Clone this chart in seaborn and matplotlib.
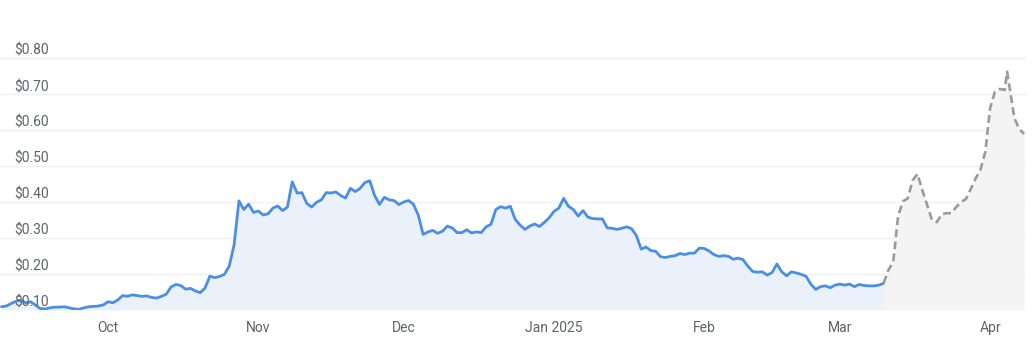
import matplotlib
matplotlib.use("Agg")
import matplotlib.pyplot as plt
import matplotlib.transforms as mtransforms
import seaborn as sns
import pandas as pd

# ---------------- data ----------------
hist_start = "2024-09-09"
hist_price = [
    0.109, 0.111, 0.118, 0.124, 0.128, 0.120, 0.123, 0.114, 0.104, 0.103,
    0.106, 0.108, 0.108, 0.109, 0.106, 0.103, 0.102, 0.106, 0.109, 0.110,
    0.111, 0.114,
    0.123, 0.120, 0.128, 0.140, 0.138, 0.142, 0.140, 0.138, 0.139, 0.135,
    0.133, 0.138, 0.144, 0.164, 0.171, 0.168, 0.158, 0.160, 0.153, 0.148,
    0.161, 0.194, 0.190, 0.193, 0.199, 0.222, 0.281, 0.403, 0.379, 0.394,
    0.371, 0.375, 0.364, 0.367, 0.383, 0.389, 0.376, 0.386, 0.456, 0.425,
    0.426, 0.396, 0.386, 0.399, 0.406, 0.426, 0.425, 0.428, 0.418, 0.411,
    0.438, 0.429, 0.438, 0.454, 0.459, 0.418, 0.393, 0.413, 0.406, 0.404,
    0.393, 0.400, 0.404, 0.394, 0.364, 0.310, 0.317, 0.321, 0.313, 0.319,
    0.333, 0.328, 0.315, 0.315, 0.323, 0.314, 0.317, 0.315, 0.331, 0.338,
    0.379, 0.387, 0.383, 0.388, 0.352, 0.336, 0.324, 0.333, 0.339, 0.332,
    0.343, 0.356, 0.374, 0.383, 0.410, 0.388, 0.379, 0.361, 0.376, 0.358,
    0.354, 0.353, 0.353, 0.328, 0.327, 0.324, 0.327, 0.331, 0.326, 0.307,
    0.269, 0.275, 0.265, 0.263, 0.248, 0.246, 0.249, 0.251, 0.257, 0.254,
    0.258, 0.258, 0.272, 0.271, 0.264, 0.254, 0.249, 0.251, 0.249, 0.241,
    0.244, 0.240, 0.222, 0.207, 0.205, 0.206, 0.197, 0.204, 0.228, 0.206,
    0.195, 0.206, 0.203, 0.199, 0.194, 0.172, 0.157, 0.165, 0.167, 0.162,
    0.169, 0.172, 0.169, 0.172, 0.165, 0.171, 0.168, 0.167, 0.167, 0.169, 0.174,
]

fc_dates = [
    "2025-03-10 00:00", "2025-03-11 00:00", "2025-03-12 00:00", "2025-03-13 00:00",
    "2025-03-14 00:00", "2025-03-15 00:00", "2025-03-16 00:00", "2025-03-17 00:00",
    "2025-03-18 00:00", "2025-03-19 00:00", "2025-03-20 00:00", "2025-03-21 00:00",
    "2025-03-22 00:00", "2025-03-23 00:00", "2025-03-24 00:00", "2025-03-25 00:00",
    "2025-03-26 00:00", "2025-03-27 00:00", "2025-03-28 00:00", "2025-03-29 00:00",
    "2025-03-30 00:00", "2025-03-31 00:00", "2025-04-01 00:00", "2025-04-02 00:00",
    "2025-04-03 00:00", "2025-04-04 00:00", "2025-04-04 12:00", "2025-04-05 00:00",
    "2025-04-06 00:00", "2025-04-07 00:00", "2025-04-08 00:00",
]
fc_price = [
    0.174, 0.211, 0.233, 0.360,
    0.402, 0.410, 0.460, 0.478,
    0.433, 0.392, 0.350, 0.344,
    0.366, 0.369, 0.369, 0.386,
    0.400, 0.408, 0.436, 0.465,
    0.490, 0.539, 0.661, 0.707,
    0.714, 0.711, 0.762, 0.720,
    0.633, 0.603, 0.589,
]

y_ticks = [0.10, 0.20, 0.30, 0.40, 0.50, 0.60, 0.70, 0.80]
y_labels = ["$0.10", "$0.20", "$0.30", "$0.40", "$0.50", "$0.60", "$0.70", "$0.80"]
x_ticks = ["2024-10-01", "2024-11-01", "2024-12-01", "2025-01-01",
           "2025-02-01", "2025-03-01", "2025-04-01"]
x_labels = ["Oct", "Nov", "Dec", "Jan 2025", "Feb", "Mar", "Apr"]

# ---------------- frames ----------------
hist = pd.DataFrame({
    "date": pd.date_range(hist_start, periods=len(hist_price), freq="D"),
    "price": hist_price,
})
fc = pd.DataFrame({"date": pd.to_datetime(fc_dates, format="%Y-%m-%d %H:%M"),
                   "price": fc_price})

# ---------------- style ----------------
sns.set_theme(style="white")
plt.rcParams["font.family"] = ["Roboto", "DejaVu Sans"]

W, H = 1035, 340
fig = plt.figure(figsize=(W / 100, H / 100), dpi=100)
ax = fig.add_axes([0 / W, 30 / H, 1026 / W, 270 / H])

blue = "#4a8fe3"
gray = "#9b9b9b"
ymin, ymax = 0.10, 0.85

# fills
ax.fill_between(hist["date"], ymin, hist["price"], color="#eaf1fb", lw=0, zorder=1)
ax.fill_between(fc["date"], ymin, fc["price"], color="#f4f4f4", lw=0, zorder=1)

# lines
sns.lineplot(data=hist, x="date", y="price", ax=ax, color=blue, lw=2.0, zorder=3)
sns.lineplot(data=fc, x="date", y="price", ax=ax, color=gray, lw=1.9, zorder=3)
ax.lines[-1].set_dashes((3.0, 1.6))

# axes limits
origin = pd.Timestamp("2024-10-01")
ax.set_xlim(origin - pd.Timedelta(days=22.3), origin + pd.Timedelta(days=189.4))
ax.set_ylim(ymin, ymax)

# grid
for v in y_ticks:
    ax.axhline(v, color="#f0f0f0", lw=1.0, zorder=0)
ax.grid(False)
for s in ax.spines.values():
    s.set_visible(False)

# y labels (drawn inside, above gridlines)
ax.set_yticks([])
offset = mtransforms.ScaledTranslation(0, 7 / 100, fig.dpi_scale_trans)
for v, lab in zip(y_ticks, y_labels):
    ax.text(14 / 1026, v, lab, transform=ax.get_yaxis_transform() + offset,
            ha="left", va="center", fontsize=10, color="#5f6368", zorder=5)

# x ticks
ax.set_xticks(pd.to_datetime(x_ticks))
ax.set_xticklabels(x_labels)
ax.tick_params(axis="x", length=0, pad=8, labelsize=10, labelcolor="#5f6368")
ax.set_xlabel("")
ax.set_ylabel("")

fig.savefig("out.png", dpi=100)
